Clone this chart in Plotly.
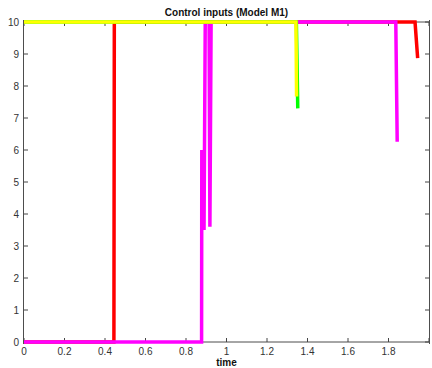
import plotly.graph_objects as go

# Control input trajectories (time in s, input value)
red_t = [0.0, 0.444, 0.446, 1.931, 1.944]
red_u = [0.0, 0.0, 10.0, 10.0, 8.87]

magenta_t = [0.0, 0.877, 0.878, 0.889, 0.895, 0.914, 0.918, 0.924, 1.836, 1.843]
magenta_u = [0.0, 0.0, 6.0, 3.5, 10.0, 10.0, 3.6, 10.0, 10.0, 6.26]

green_t = [0.0, 1.345, 1.352]
green_u = [10.0, 10.0, 7.3]

yellow_t = [0.0, 1.343, 1.346]
yellow_u = [10.0, 10.0, 7.67]

x_ticks = [0, 0.2, 0.4, 0.6, 0.8, 1, 1.2, 1.4, 1.6, 1.8, 2]
x_labels = ["0", "0.2", "0.4", "0.6", "0.8", "1", "1.2", "1.4", "1.6", "1.8", "2"]
y_ticks = list(range(0, 11))

X_MIN, X_MAX = 0, 2
Y_MIN, Y_MAX = 0, 10
Y_PAD = 0.0625  # keeps the full stroke width of lines at 0 and 10 visible

series = [
    (red_t, red_u, "#ff0000"),
    (magenta_t, magenta_u, "#ff00ff"),
    (green_t, green_u, "#00ff00"),
    (yellow_t, yellow_u, "#ffff00"),
]

fig = go.Figure()
for t, u, c in series:
    fig.add_trace(go.Scatter(
        x=t, y=u, mode="lines",
        line=dict(color=c, width=3.5),
        showlegend=False, hoverinfo="skip",
    ))

FRAME = "#4d4d4d"
TICK = "#444444"
font_ticks = dict(family="Liberation Sans, Arial, sans-serif", size=10, color="#333333")
font_bold = dict(family="Liberation Sans, Arial, sans-serif", size=10, color="#111111")

shapes = []
# bottom and top frame lines at the data limits
for yv in (Y_MIN, Y_MAX):
    shapes.append(dict(type="line", xref="x", yref="y", x0=X_MIN, x1=X_MAX, y0=yv, y1=yv,
                       line=dict(color=FRAME, width=1), layer="below"))
# inward tick marks on the bottom and top edges
for xv in x_ticks:
    shapes.append(dict(type="line", xref="x", yref="y", ysizemode="pixel", yanchor=Y_MIN,
                       x0=xv, x1=xv, y0=0, y1=4, line=dict(color=TICK, width=1), layer="below"))
    shapes.append(dict(type="line", xref="x", yref="y", ysizemode="pixel", yanchor=Y_MAX,
                       x0=xv, x1=xv, y0=0, y1=-4, line=dict(color=TICK, width=1), layer="below"))
# inward tick marks on the left and right edges
for yv in y_ticks:
    shapes.append(dict(type="line", xref="x", yref="y", xsizemode="pixel", xanchor=X_MIN,
                       y0=yv, y1=yv, x0=0, x1=4, line=dict(color=TICK, width=1), layer="below"))
    shapes.append(dict(type="line", xref="x", yref="y", xsizemode="pixel", xanchor=X_MAX,
                       y0=yv, y1=yv, x0=0, x1=-4, line=dict(color=TICK, width=1), layer="below"))

fig.update_layout(
    width=432, height=368,
    margin=dict(l=24, r=3, t=20, b=24),
    paper_bgcolor="white", plot_bgcolor="white",
    shapes=shapes,
    title=dict(
        text="<b>Control inputs (Model M1)</b>",
        x=(24 + 429) / 2 / 432, xanchor="center",
        y=1 - 12 / 368, yanchor="middle",
        font=font_bold,
    ),
    xaxis=dict(
        range=[X_MIN, X_MAX], tickvals=x_ticks, ticktext=x_labels,
        showgrid=False, zeroline=False, showline=False, ticks="",
        tickfont=font_ticks, ticklabelstandoff=0,
        title=dict(text="<b>time</b>", standoff=2, font=font_bold),
    ),
    yaxis=dict(
        range=[Y_MIN - Y_PAD, Y_MAX + Y_PAD], tickvals=y_ticks,
        showgrid=False, zeroline=False, showline=True, mirror=True,
        linecolor=FRAME, linewidth=1, ticks="",
        tickfont=font_ticks, ticklabelstandoff=2,
    ),
)

fig.write_html("out.html")
